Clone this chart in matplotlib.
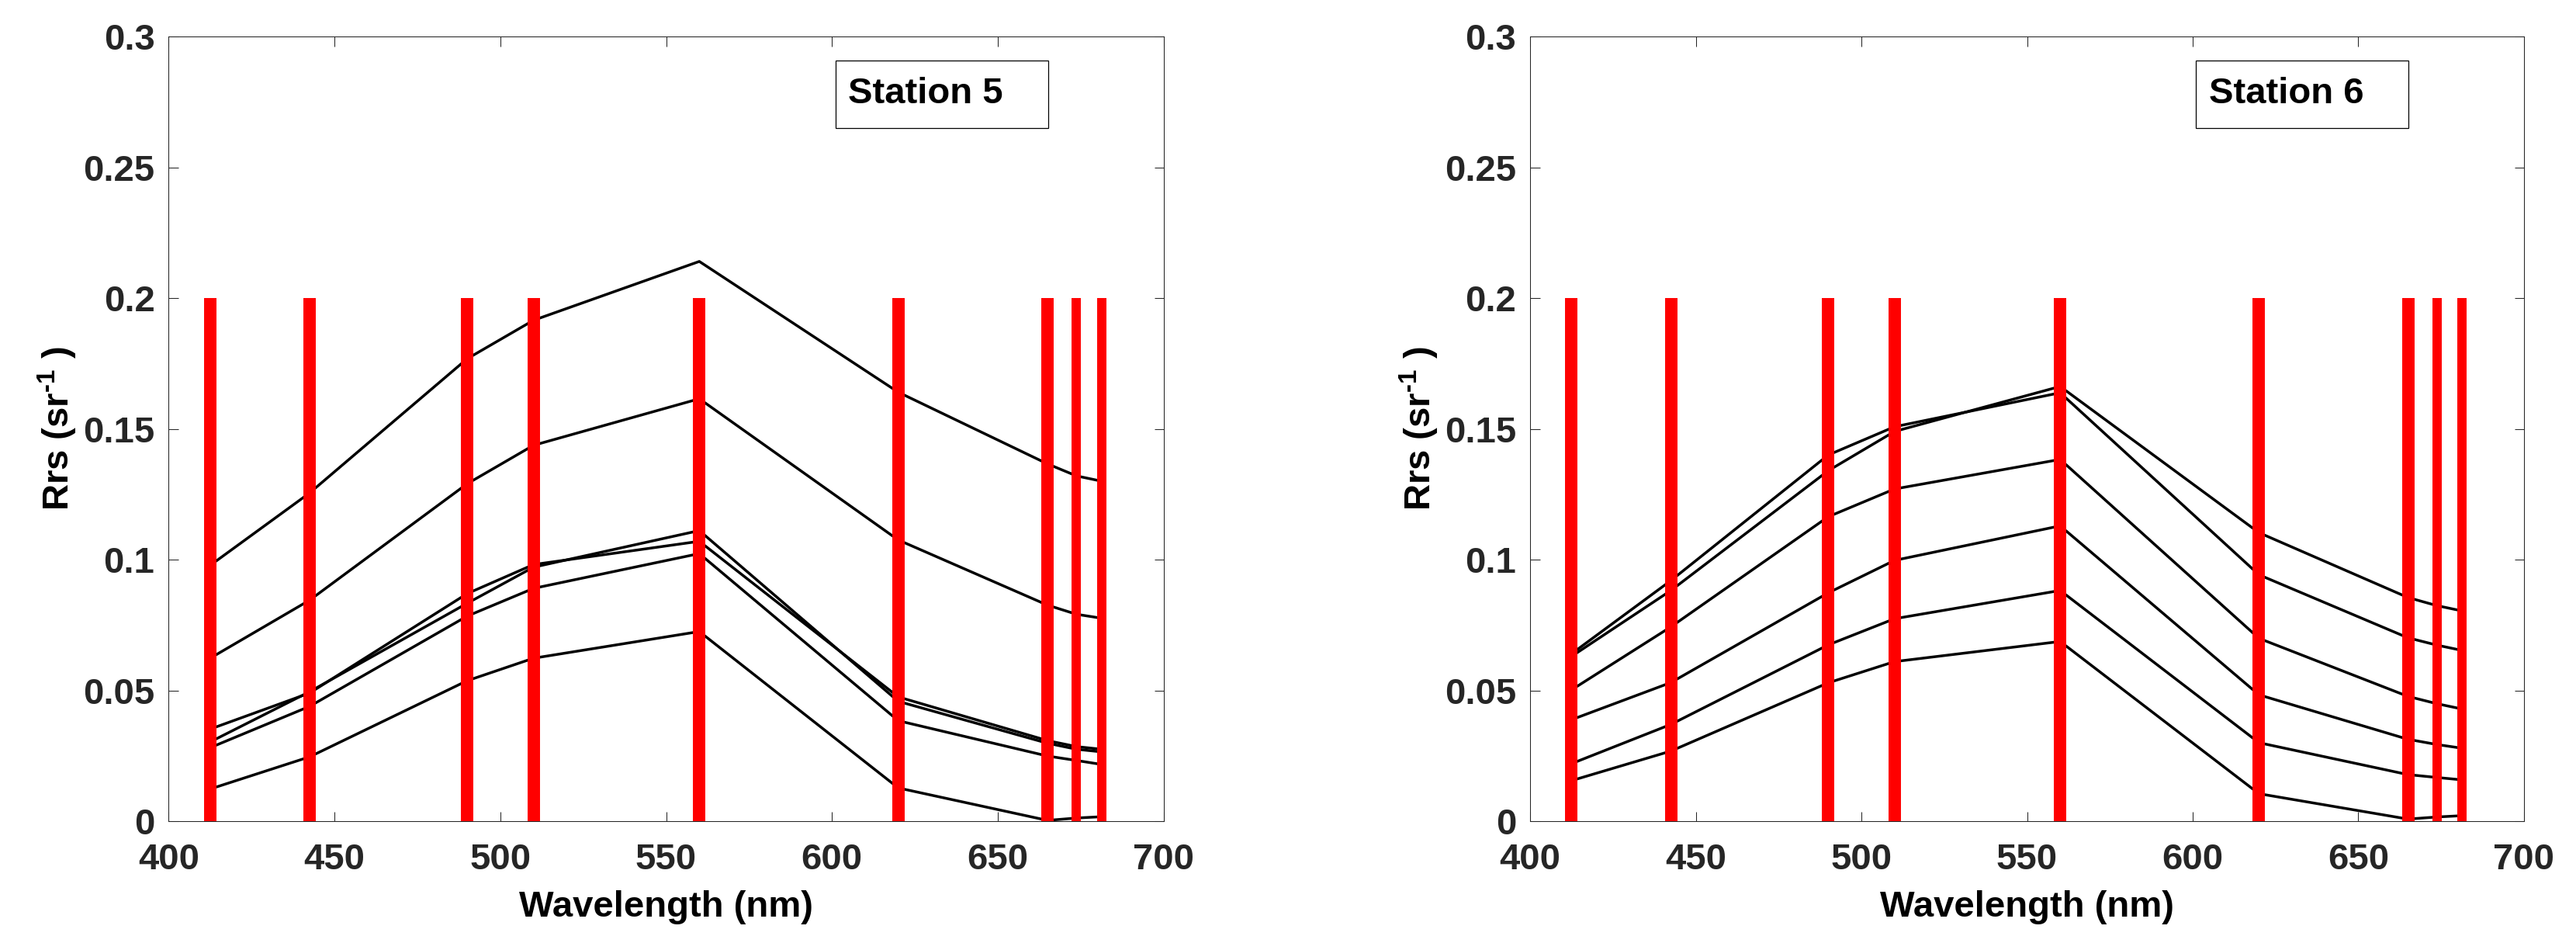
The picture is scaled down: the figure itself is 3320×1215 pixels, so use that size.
import matplotlib
matplotlib.use("Agg")
import matplotlib.pyplot as plt
from matplotlib.patches import Rectangle

plt.rcParams['font.family'] = ['Liberation Sans', 'DejaVu Sans']
plt.rcParams['font.weight'] = 'bold'
plt.rcParams['mathtext.fontset'] = 'custom'
plt.rcParams['mathtext.rm'] = 'Liberation Sans:bold'
plt.rcParams['mathtext.default'] = 'rm'

# OLCI band centres (nm)
wavelengths = [412.5, 442.5, 490, 510, 560, 620, 665, 673.75, 681.25]
band_widths = [10, 10, 10, 10, 10, 10, 10, 7.5, 7.5]

station5 = [
    [0.0978, 0.1255, 0.1768, 0.1915, 0.2140, 0.1640, 0.1366, 0.1320, 0.1300],
    [0.0623, 0.0845, 0.1290, 0.1437, 0.1615, 0.1075, 0.0826, 0.0791, 0.0776],
    [0.0352, 0.0490, 0.0870, 0.0981, 0.1070, 0.0475, 0.0308, 0.0285, 0.0275],
    [0.0303, 0.0495, 0.0833, 0.0971, 0.1111, 0.0458, 0.0298, 0.0275, 0.0265],
    [0.0281, 0.0439, 0.0784, 0.0890, 0.1023, 0.0384, 0.0249, 0.0232, 0.0217],
    [0.0123, 0.0246, 0.0537, 0.0623, 0.0725, 0.0127, 0.0003, 0.0012, 0.0017],
]

station6 = [
    [0.0630, 0.0882, 0.1340, 0.1490, 0.1662, 0.1103, 0.0855, 0.0824, 0.0804],
    [0.0640, 0.0920, 0.1400, 0.1508, 0.1638, 0.0942, 0.0701, 0.0673, 0.0653],
    [0.0502, 0.0743, 0.1164, 0.1270, 0.1383, 0.0699, 0.0477, 0.0449, 0.0429],
    [0.0388, 0.0530, 0.0873, 0.0997, 0.1129, 0.0483, 0.0313, 0.0293, 0.0279],
    [0.0220, 0.0370, 0.0674, 0.0774, 0.0882, 0.0300, 0.0178, 0.0167, 0.0158],
    [0.0155, 0.0268, 0.0529, 0.0610, 0.0687, 0.0105, 0.0008, 0.0016, 0.0021],
]

band_top = 0.2
xticks = [400, 450, 500, 550, 600, 650, 700]
yticks = [0, 0.05, 0.1, 0.15, 0.2, 0.25, 0.3]
ytick_labels = ['0', '0.05', '0.1', '0.15', '0.2', '0.25', '0.3']
titles = ['Station 5', 'Station 6']

axis_col = '#262626'
fs = 34

fig = plt.figure(figsize=(33.2, 12.15), dpi=100)
ax_left = fig.add_axes([0.0655, 0.1292, 0.3862, 0.8321])
ax_right = fig.add_axes([0.5940, 0.1292, 0.3858, 0.8321])

for ax, spectra, name in zip([ax_left, ax_right], [station5, station6], titles):
    for s in spectra:
        ax.plot(wavelengths, s, color='black', lw=2.5, zorder=2)

    # band markers, width scaled by bandwidth
    lws = [11.5 * w / 10 for w in band_widths]
    ax.vlines(wavelengths, 0, band_top, colors='#ff0000', linewidths=lws, zorder=3)

    ax.set_xlim(400, 700)
    ax.set_ylim(0, 0.3)
    ax.set_xticks(xticks)
    ax.set_xticklabels([str(t) for t in xticks])
    ax.set_yticks(yticks)
    ax.set_yticklabels(ytick_labels)
    ax.tick_params(direction='in', length=9, width=0.75, colors=axis_col,
                   top=True, right=True, labelsize=fs)
    ax.tick_params(axis='x', pad=20.5)
    ax.tick_params(axis='y', pad=13)
    for sp in ax.spines.values():
        sp.set_color(axis_col)
        sp.set_linewidth(0.75)

    ax.set_xlabel('Wavelength (nm)', fontsize=fs, fontweight='bold', color='black')
    ax.xaxis.set_label_coords(0.5, -0.088)
    ax.set_ylabel(r'Rrs (sr$^{\text{-1}}$ )', fontsize=fs, fontweight='bold', color='black')
    ax.yaxis.set_label_coords(-0.09, 0.5)

    box = Rectangle((0.670, 0.883), 0.214, 0.086, transform=ax.transAxes,
                    facecolor='white', edgecolor='black', lw=0.9, zorder=4)
    ax.add_patch(box)
    ax.text(0.683, 0.9146, name, transform=ax.transAxes, fontsize=fs,
            fontweight='bold', color='black', va='baseline', ha='left', zorder=5)

fig.savefig('out.png', dpi=100, facecolor='white')
